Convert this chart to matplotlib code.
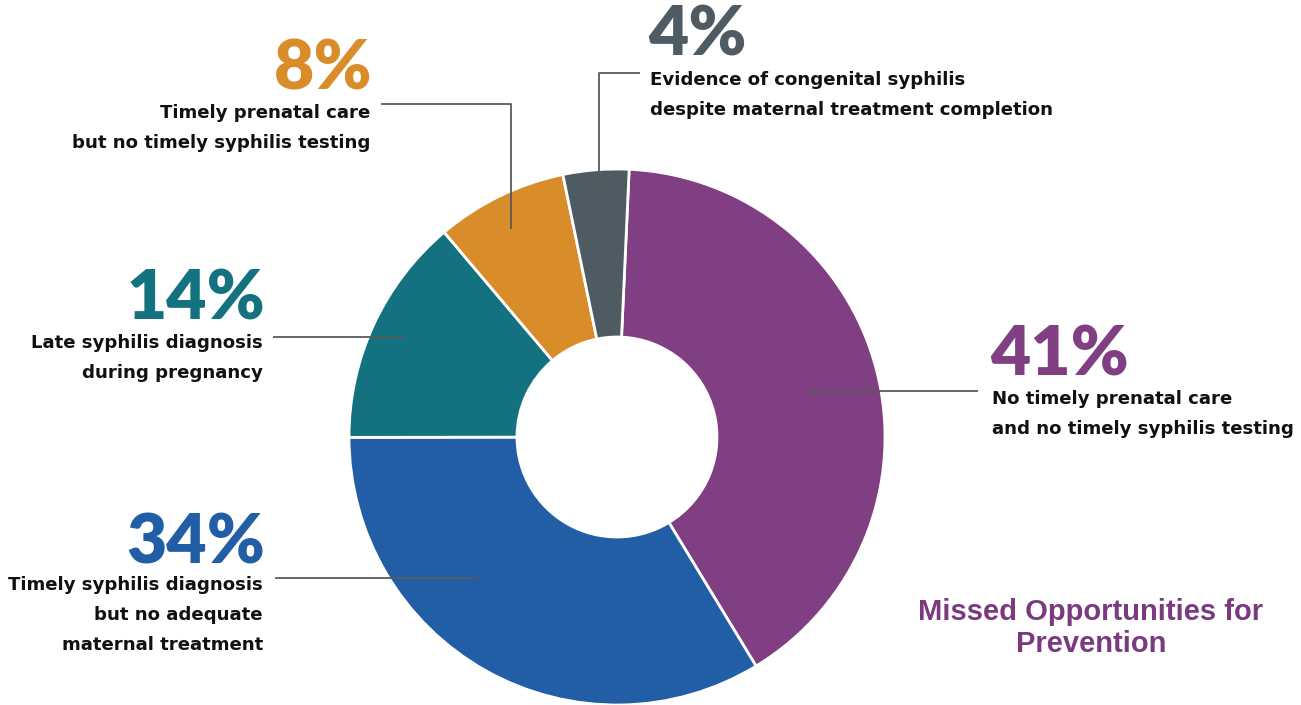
import matplotlib
matplotlib.use("Agg")
import matplotlib.pyplot as plt

# Share of congenital syphilis cases by missed prevention opportunity
shares = [41, 34, 14, 8, 4]
pct_labels = ["41%", "34%", "14%", "8%", "4%"]
descriptions = [
    "No timely prenatal care\nand no timely syphilis testing",
    "Timely syphilis diagnosis\nbut no adequate\nmaternal treatment",
    "Late syphilis diagnosis\nduring pregnancy",
    "Timely prenatal care\nbut no timely syphilis testing",
    "Evidence of congenital syphilis\ndespite maternal treatment completion",
]
colors = ["#7F3F82", "#215EA6", "#137180", "#D98D2A", "#4F5B63"]
title = "Missed Opportunities for\nPrevention"

W, H = 1301, 705
fig = plt.figure(figsize=(W / 100, H / 100), dpi=100)
ax = fig.add_axes([0, 0, 1, 1])


def Y(y):
    # convert a top-down pixel row into data y
    return H - y


ax.pie(
    shares,
    colors=colors,
    startangle=87.4,
    counterclock=False,
    radius=268,
    center=(617, Y(437)),
    wedgeprops=dict(width=168, edgecolor="white", linewidth=2),
)
ax.set_xlim(0, W)
ax.set_ylim(0, H)
ax.set_aspect("equal")
ax.axis("off")

line_kw = dict(color="#5a5a5a", lw=1.3, solid_capstyle="butt", zorder=5)
num_font = dict(family=["Lato", "DejaVu Sans"], weight="heavy", fontsize=50)
txt_font = dict(family=["DejaVu Sans"], weight="bold", fontsize=13.1,
                color="#111111", linespacing=1.85)

# leader lines (pixel rows are measured from the top)
ax.plot([978, 808], [Y(391), Y(391)], **line_kw)
ax.plot([275, 478], [Y(578), Y(578)], **line_kw)
ax.plot([273, 404], [Y(337), Y(337)], **line_kw)
ax.plot([381, 511, 511], [Y(104), Y(104), Y(229)], **line_kw)
ax.plot([640, 599, 599], [Y(73), Y(73), Y(204)], **line_kw)

# 41%
ax.text(990, Y(376), pct_labels[0], color=colors[0], ha="left", va="baseline", **num_font)
ax.text(992, Y(390), descriptions[0], ha="left", va="top", **txt_font)
# 34%
ax.text(265, Y(563), pct_labels[1], color=colors[1], ha="right", va="baseline", **num_font)
ax.text(263, Y(576), descriptions[1], ha="right", va="top", **txt_font)
# 14%
ax.text(265, Y(320), pct_labels[2], color=colors[2], ha="right", va="baseline", **num_font)
ax.text(263, Y(334), descriptions[2], ha="right", va="top", **txt_font)
# 8%
ax.text(372, Y(89), pct_labels[3], color=colors[3], ha="right", va="baseline", **num_font)
ax.text(370, Y(104), descriptions[3], ha="right", va="top", **txt_font)
# 4%
ax.text(648, Y(56), pct_labels[4], color=colors[4], ha="left", va="baseline", **num_font)
ax.text(650, Y(71), descriptions[4], ha="left", va="top", **txt_font)

ax.text(1091, Y(628), title, color="#7B3A80", ha="center", va="center",
        family=["Liberation Sans", "DejaVu Sans"], weight="bold", fontsize=21,
        linespacing=1.15)

fig.savefig("out.png", dpi=100, facecolor="white")
